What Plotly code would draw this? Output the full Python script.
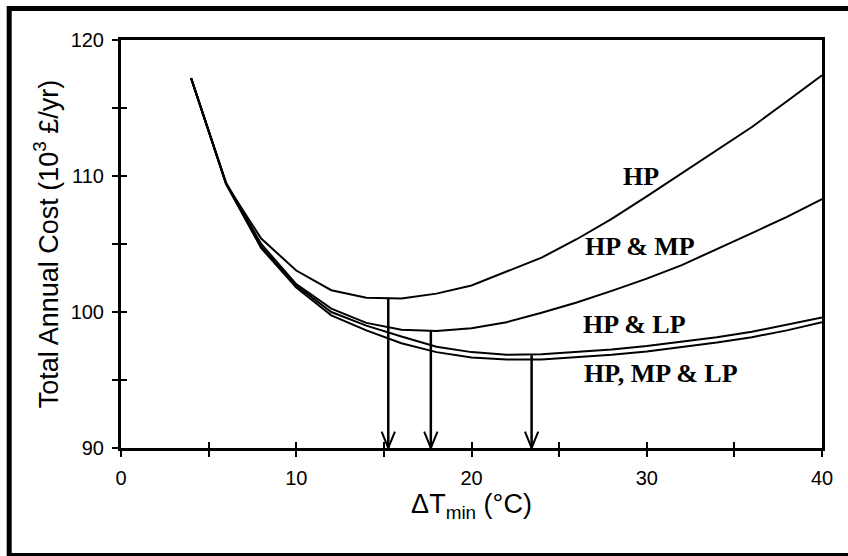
import plotly.graph_objects as go

# ---- data ----
dt_min = [4, 6, 8, 10, 12, 14, 16, 18, 20, 22, 24, 26, 28, 30, 32, 34, 36, 38, 40]

cost_hp = [117.2, 109.4, 105.4, 103.05, 101.6, 101.05, 101.0, 101.35, 101.95, 102.95,
           104.0, 105.35, 106.85, 108.5, 110.2, 111.9, 113.6, 115.5, 117.4]
cost_hp_mp = [117.2, 109.5, 105.0, 102.05, 100.25, 99.2, 98.7, 98.6, 98.8, 99.25,
              99.95, 100.7, 101.55, 102.45, 103.45, 104.6, 105.8, 107.0, 108.3]
cost_hp_lp = [117.2, 109.4, 104.8, 101.95, 100.0, 99.0, 98.2, 97.45, 97.05, 96.85,
              96.9, 97.05, 97.25, 97.5, 97.8, 98.15, 98.55, 99.05, 99.6]
cost_hp_mp_lp = [117.2, 109.4, 104.7, 101.8, 99.75, 98.65, 97.7, 97.05, 96.65, 96.5,
                 96.5, 96.65, 96.85, 97.1, 97.4, 97.75, 98.15, 98.65, 99.25]

series_names = ["HP", "HP & MP", "HP & LP", "HP, MP & LP"]
series_values = [cost_hp, cost_hp_mp, cost_hp_lp, cost_hp_mp_lp]

# curve labels (data coords of label centres)
label_x = [29.66, 29.6, 29.32, 30.84]
label_y = [110.0, 104.8, 99.05, 95.5]

# optimum markers (arrows down to the x axis)
opt_x = [15.25, 17.68, 23.43]
opt_y = [101.05, 98.6, 96.82]

x_major = 10
x_minor = 5
y_major = 10
y_minor = 5

X_RANGE = [0, 40]
Y_RANGE = [90, 120]

# arrow head size (style, in axis units)
HEAD_DX = 0.38
HEAD_DY = 1.2

fig = go.Figure()
for name, vals in zip(series_names, series_values):
    fig.add_trace(go.Scatter(x=dt_min, y=vals, mode="lines", name=name,
                             line=dict(color="black", width=2), hoverinfo="skip"))

# optimum arrows: shaft + open V head
for ox, oy in zip(opt_x, opt_y):
    base = Y_RANGE[0]
    fig.add_trace(go.Scatter(x=[ox, ox], y=[oy, base], mode="lines",
                             line=dict(color="black", width=2.5), hoverinfo="skip"))
    fig.add_trace(go.Scatter(x=[ox - HEAD_DX, ox, ox + HEAD_DX],
                             y=[base + HEAD_DY, base, base + HEAD_DY], mode="lines",
                             line=dict(color="black", width=2), hoverinfo="skip"))

# dummy trace for the overlaid axes carrying the inside half of the ticks
fig.add_trace(go.Scatter(x=X_RANGE, y=Y_RANGE, xaxis="x2", yaxis="y2", mode="lines",
                         line=dict(width=0, color="rgba(0,0,0,0)"), hoverinfo="skip",
                         showlegend=False))

sans = "Liberation Sans, Arial, sans-serif"
serif = "Liberation Serif, Times New Roman, serif"

axis_common = dict(showgrid=False, zeroline=False, linecolor="black", linewidth=3,
                   ticks="outside", ticklen=6, tickwidth=2, tickcolor="black",
                   tickfont=dict(family=sans, size=20, color="black"))

fig.update_layout(
    width=848, height=556,
    margin=dict(l=121, r=26, t=40, b=108),
    paper_bgcolor="white", plot_bgcolor="white",
    showlegend=False,
    xaxis=dict(range=X_RANGE, tick0=0, dtick=x_major, mirror=True,
               minor=dict(dtick=x_minor, ticks="outside", ticklen=6, tickwidth=2,
                          tickcolor="black", showgrid=False),
               showline=True, ticklabelstandoff=4,
               title=dict(text="ΔT<sub>min</sub> (°C)", font=dict(family=sans, size=27, color="black"),
                          standoff=6),
               **axis_common),
    yaxis=dict(range=Y_RANGE, tick0=90, dtick=y_major, mirror=True,
               minor=dict(dtick=y_minor, ticks="outside", ticklen=6, tickwidth=2,
                          tickcolor="black", showgrid=False),
               showline=True, ticklabelstandoff=4,
               title=dict(text="Total Annual Cost (10<sup>3</sup> £/yr)",
                          font=dict(family=sans, size=27, color="black"), standoff=5),
               **axis_common),
    xaxis2=dict(range=X_RANGE, overlaying="x", anchor="y2", side="bottom", tick0=0,
                dtick=x_minor, showticklabels=False, showline=False, showgrid=False,
                zeroline=False, ticks="inside", ticklen=6, tickwidth=2, tickcolor="black"),
    yaxis2=dict(range=Y_RANGE, overlaying="y", anchor="x2", side="left", tick0=90,
                dtick=y_minor, showticklabels=False, showline=False, showgrid=False,
                zeroline=False, ticks="inside", ticklen=6, tickwidth=2, tickcolor="black"),
)

# curve labels
for txt, lx, ly in zip(series_names, label_x, label_y):
    fig.add_annotation(x=lx, y=ly, xref="x", yref="y", text="<b>%s</b>" % txt,
                       showarrow=False, font=dict(family=serif, size=26, color="black"))

# outer frame: left, top and bottom edges (right edge lies beyond the picture)
PW, PH, ML, MB = 701, 408, 121, 108
fx0 = (9.2 - ML) / PW
fx1 = (848 - ML) / PW
fy_top = (448 - 8.5) / PH
fy_bot = (448 - 555.5) / PH
frame = dict(color="black", width=5)
fig.add_shape(type="line", xref="paper", yref="paper", x0=fx0, x1=fx0,
              y0=fy_bot - 0.01, y1=fy_top + 0.006, line=frame, layer="above")
fig.add_shape(type="line", xref="paper", yref="paper", x0=fx0 - 0.003, x1=fx1,
              y0=fy_top, y1=fy_top, line=frame, layer="above")
fig.add_shape(type="line", xref="paper", yref="paper", x0=fx0 - 0.003, x1=fx1,
              y0=fy_bot, y1=fy_bot, line=frame, layer="above")

fig.write_html("out.html", config={"displayModeBar": False},
               post_script=("document.body.style.margin='0';"
                            "document.body.style.overflow='hidden';"
                            "document.documentElement.style.overflow='hidden';"))
